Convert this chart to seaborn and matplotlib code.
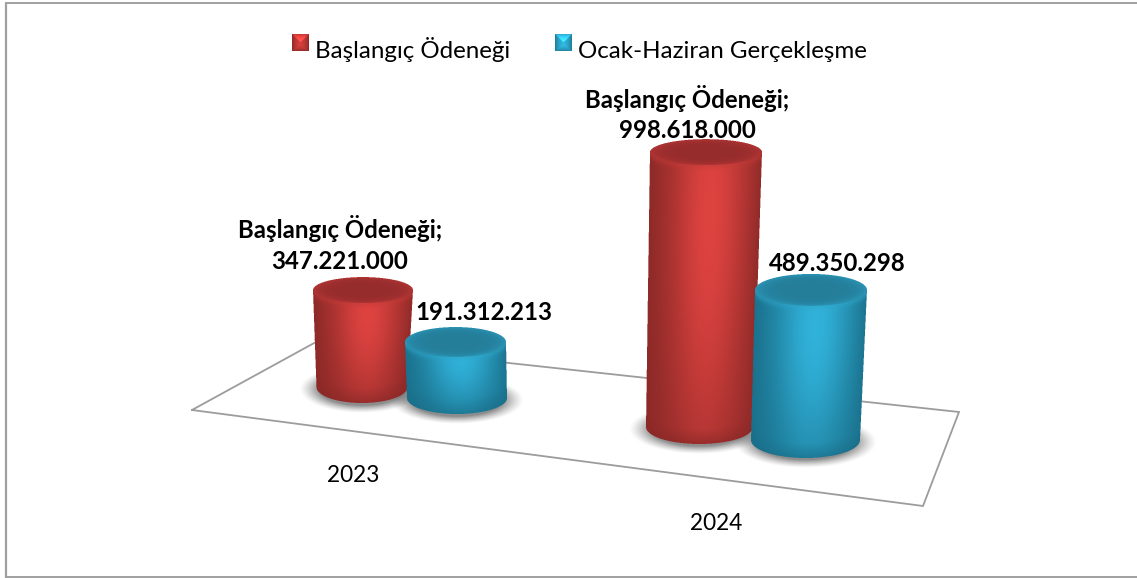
import numpy as np
import pandas as pd
import matplotlib
matplotlib.use("Agg")
import matplotlib.pyplot as plt
import seaborn as sns
from matplotlib.lines import Line2D
from matplotlib.transforms import Affine2D

# ---- data ----
years = ["2023", "2024"]
series_names = ["Başlangıç Ödeneği", "Ocak-Haziran Gerçekleşme"]
baslangic = [347221000, 998618000]
gerceklesme = [191312213, 489350298]

W, H = 1137, 578
sns.set_theme(style="white")
plt.rcParams["font.family"] = ["Lato", "DejaVu Sans"]
TEXT = "#000000"
PALETTE = {"Başlangıç Ödeneği": "#b33532", "Ocak-Haziran Gerçekleşme": "#2a9cbf"}
SHADES = {
    "Başlangıç Ödeneği": dict(dark="#8a2927", bright="#de4340", cap="#a33030", rim="#c23a37"),
    "Ocak-Haziran Gerçekleşme": dict(dark="#1a6f8a", bright="#31b2da", cap="#2788a6", rim="#2ea5ca"),
}

df = pd.DataFrame({
    "year": years * 2,
    "series": [series_names[0]] * 2 + [series_names[1]] * 2,
    "value": baslangic + gerceklesme,
})

fig = plt.figure(figsize=(W / 100, H / 100), dpi=100, facecolor="white")
ax = fig.add_axes([0, 0, 1, 1])
sns.barplot(data=df, x="year", y="value", hue="series", hue_order=series_names,
            palette=PALETTE, width=0.6, gap=0, ax=ax, zorder=3, saturation=1)

# value axis: a common scale in pixels per unit, zero placed at pixel row Y0
PX_PER_UNIT = 0.28e-6
Y0 = 400
ax.set_ylim(-(H - Y0) / PX_PER_UNIT, Y0 / PX_PER_UNIT)
ax.set_xlim(-0.5, 1.5)
ax.set_axis_off()

tr = Affine2D().scale(1, -1).translate(0, H)   # pixel space, origin top-left


def to_data(px, py):
    return ax.transData.inverted().transform(tr.transform((px, py)))


# ---- 3D projection of each cylinder: (series, year) -> layout
layout = {
    (0, 0): dict(depth=0.997, xt=363.0, xb=362.0, rt=50, rb=45.5, base=387, ryt=13, ryb=16),
    (1, 0): dict(depth=1.045, xt=455.5, xb=457.0, rt=50.5, rb=50, base=398, ryt=15, ryb=16),
    (0, 1): dict(depth=0.983, xt=706.0, xb=699.5, rt=56, rb=53.5, base=427, ryt=13, ryb=17),
    (1, 1): dict(depth=1.095, xt=811.0, xb=805.5, rt=56, rb=54.5, base=440, ryt=16, ryb=18),
}


def hexrgb(c):
    return np.array(matplotlib.colors.to_rgb(c))


def cylinder_rgba(g, shade, top_row, ss=3):
    """Render a shaded cylinder (RGBA) for geometry g whose top is at top_row."""
    x0 = int(min(g["xt"] - g["rt"], g["xb"] - g["rb"])) - 3
    x1 = int(max(g["xt"] + g["rt"], g["xb"] + g["rb"])) + 4
    y0 = int(top_row - g["ryt"]) - 3
    y1 = int(g["base"] + g["ryb"]) + 4
    xs = np.arange(x0, x1, 1 / ss) + 0.5 / ss
    ys = np.arange(y0, y1, 1 / ss) + 0.5 / ss
    X, Y = np.meshgrid(xs, ys)
    t = np.clip((Y - top_row) / (g["base"] - top_row), 0, 1)
    cx = g["xt"] + (g["xb"] - g["xt"]) * t
    rx = g["rt"] + (g["rb"] - g["rt"]) * t
    u = (X - cx) / rx
    cap_r = np.sqrt(((X - g["xt"]) / g["rt"]) ** 2 + ((Y - top_row) / g["ryt"]) ** 2)
    base_r = np.sqrt(((X - g["xb"]) / g["rb"]) ** 2 + ((Y - g["base"]) / g["ryb"]) ** 2)
    body = (np.abs(u) <= 1) & (Y >= top_row) & (Y <= g["base"])
    inside = body | (cap_r <= 1) | (base_r <= 1)

    dark, bright, cap, rim = (hexrgb(shade[k]) for k in ("dark", "bright", "cap", "rim"))
    uc = np.clip(u, -1, 1)
    lower = np.sqrt(np.clip(1 - uc ** 2, 0, 1)) * g["ryb"] + g["base"] - Y
    vert = np.exp(-((t - 0.22) / 1.0) ** 2)
    light = np.exp(-((uc - 0.1) / 0.72) ** 2) * vert
    edge = np.clip(1 - np.abs(uc) ** 9, 0, 1)
    light = light * (0.4 + 0.6 * edge)
    light = light * np.clip(0.3 + lower / 22, 0, 1)
    img = dark[None, None, :] + (bright - dark)[None, None, :] * light[..., None]
    # rim highlight just under the cap
    below = np.clip(Y - (top_row + np.sqrt(np.clip(1 - ((X - g["xt"]) / g["rt"]) ** 2, 0, 1)) * g["ryt"]), 0, None)
    glow = np.exp(-(below / 4) ** 2)[..., None] * 0.5
    img = img * (1 - glow) + rim[None, None, :] * glow
    # top cap, slightly darker toward its front, lighter rim
    capcol = cap[None, None, :] * (0.93 + 0.16 * cap_r[..., None] ** 6)
    mask = (cap_r <= 1)[..., None]
    img = np.where(mask, capcol, img)
    rgba = np.dstack([np.clip(img, 0, 1), inside.astype(float)])
    h, w = rgba.shape[0] // ss, rgba.shape[1] // ss
    pm = rgba.copy()
    pm[..., :3] *= pm[..., 3:]
    pm = pm.reshape(h, ss, w, ss, 4).mean(axis=(1, 3))
    a = np.maximum(pm[..., 3:], 1e-6)
    pm[..., :3] = pm[..., :3] / a
    return np.clip(pm, 0, 1), (x0, x1, y1, y0)


def place(img, extent, z):
    x0, x1, y1, y0 = extent
    ax.imshow(img, extent=(x0, x1, H - y1, H - y0), origin="upper", aspect="auto",
              transform=matplotlib.transforms.IdentityTransform(), zorder=z,
              interpolation="bilinear")


def shadow_rgba(g):
    cx, cy = g["xb"], g["base"] + 2
    rx, ry = g["rb"] + 17, g["ryb"] + 8
    xs = np.arange(int(cx - rx) - 4, int(cx + rx) + 5) + 0.5
    ys = np.arange(int(cy - ry) - 4, int(cy + ry) + 5) + 0.5
    X, Y = np.meshgrid(xs, ys)
    r = np.sqrt(((X - cx) / rx) ** 2 + ((Y - cy) / ry) ** 2)
    alpha = 0.62 * np.clip((1 - r) / 0.32, 0, 1) ** 1.3
    img = np.dstack([np.full_like(X, 0.28)] * 3 + [alpha])
    return img, (xs[0] - 0.5, xs[-1] + 0.5, ys[-1] + 0.5, ys[0] - 0.5)


# ---- reposition each seaborn bar through its own value height, then shade it
for s_i, cont in enumerate(ax.containers):
    for y_i, bar in enumerate(cont):
        g = layout[(s_i, y_i)]
        height = bar.get_height() * g["depth"]
        base_val = to_data(0, g["base"])[1]
        # the flat bar stays fully inside the tapered cylinder drawn over it
        left = to_data(max(g["xb"] - g["rb"], g["xt"] - g["rt"]) + 2, 0)[0]
        right = to_data(min(g["xb"] + g["rb"], g["xt"] + g["rt"]) - 2, 0)[0]
        bar.set_x(left)
        bar.set_width(right - left)
        bar.set_y(base_val)
        bar.set_height(height)
        top_row = tr.inverted().transform(ax.transData.transform((0, base_val + height)))[1]
        bar.set_zorder(3 + s_i + y_i * 2)
        si, se = shadow_rgba(g)
        place(si, se, 2)
        img, ext = cylinder_rgba(g, SHADES[series_names[s_i]], top_row)
        place(img, ext, 3.5 + s_i + y_i * 2)

ax.set_xlim(-0.5, 1.5)
ax.set_ylim(-(H - Y0) / PX_PER_UNIT, Y0 / PX_PER_UNIT)

# ---- floor plane and outer frame (pixel space)
FRAME = "#a0a0a0"
FLOOR = "#9c9c9c"
floor_x = [192, 316, 959, 923, 192]
floor_y = [410, 342, 412, 506, 410]
ax.add_line(Line2D(floor_x, floor_y, transform=tr, color=FLOOR, lw=1.3, zorder=1, solid_joinstyle="miter"))
ax.add_line(Line2D([6, 6], [3, 578], transform=tr, color=FRAME, lw=1.6, zorder=1))
ax.add_line(Line2D([6, 1137], [3, 3], transform=tr, color=FRAME, lw=1.4, zorder=1))
ax.add_line(Line2D([6, 1137], [577, 577], transform=tr, color=FRAME, lw=1.4, zorder=1))


def dotted(v):
    return f"{v:,}".replace(",", ".")


# ---- data labels
LBL = dict(transform=tr, ha="center", va="center", fontweight="bold", color=TEXT,
           fontsize=17.3, zorder=20)
ax.text(340, 244, f"{series_names[0]};\n{dotted(baslangic[0])}", linespacing=1.42, **LBL)
ax.text(687, 113.5, f"{series_names[0]};\n{dotted(baslangic[1])}", linespacing=1.42, **LBL)
ax.text(484, 312.5, dotted(gerceklesme[0]), **LBL)
ax.text(837, 263.5, dotted(gerceklesme[1]), **LBL)

# ---- category labels
CAT = dict(transform=tr, ha="center", va="center", color=TEXT, fontsize=16.3, zorder=20)
ax.text(353, 475, years[0], **CAT)
ax.text(716, 523, years[1], **CAT)

# ---- legend (seaborn's own, restyled)
LEG_FS = 17.4
handles, labels = ax.get_legend_handles_labels()
ax.get_legend().remove()
leg = ax.legend(handles, labels, ncols=2, frameon=False, loc="center left",
                bbox_to_anchor=(292 / W, 1 - 49 / H), bbox_transform=fig.transFigure,
                fontsize=LEG_FS, handlelength=12.24 / LEG_FS, handleheight=12.24 / LEG_FS,
                handletextpad=0.25, columnspacing=1.85, labelcolor=TEXT,
                borderpad=0, borderaxespad=0)


def bevel_square(base, size=17, ss=4):
    """A small bevelled key: four shaded facets around a bright centre."""
    n = size * ss
    c = (np.arange(n) + 0.5) / n * 2 - 1
    U, V = np.meshgrid(c, c)      # V grows downward
    col = np.array(matplotlib.colors.to_rgb(base))
    d = np.maximum(np.abs(U), np.abs(V))
    factor = np.where(V < -np.abs(U), 1.3, np.where(V > np.abs(U), 1.02, 0.95))
    factor = factor * (1.2 - 0.38 * d ** 2)
    img = np.clip(col[None, None, :] * factor[..., None], 0, 1)
    return img.reshape(size, ss, size, ss, 3).mean(axis=(1, 3))


fig.canvas.draw()
for patch, base in zip(leg.get_patches(), PALETTE.values()):
    # lift the key to the top of the text line, as in the original key layout
    bb = patch.get_window_extent()
    patch.set_y(patch.get_y() + ((H - 42.5) - (bb.y0 + bb.y1) / 2) * 72 / 100)
    bb = patch.get_window_extent()
    img = bevel_square(base)
    ax.imshow(img, extent=(bb.x0, bb.x1, bb.y0, bb.y1), origin="upper", aspect="auto",
              transform=matplotlib.transforms.IdentityTransform(), zorder=6,
              interpolation="bilinear")
ax.set_xlim(-0.5, 1.5)
ax.set_ylim(-(H - Y0) / PX_PER_UNIT, Y0 / PX_PER_UNIT)
fig.savefig("out.png", dpi=100)
